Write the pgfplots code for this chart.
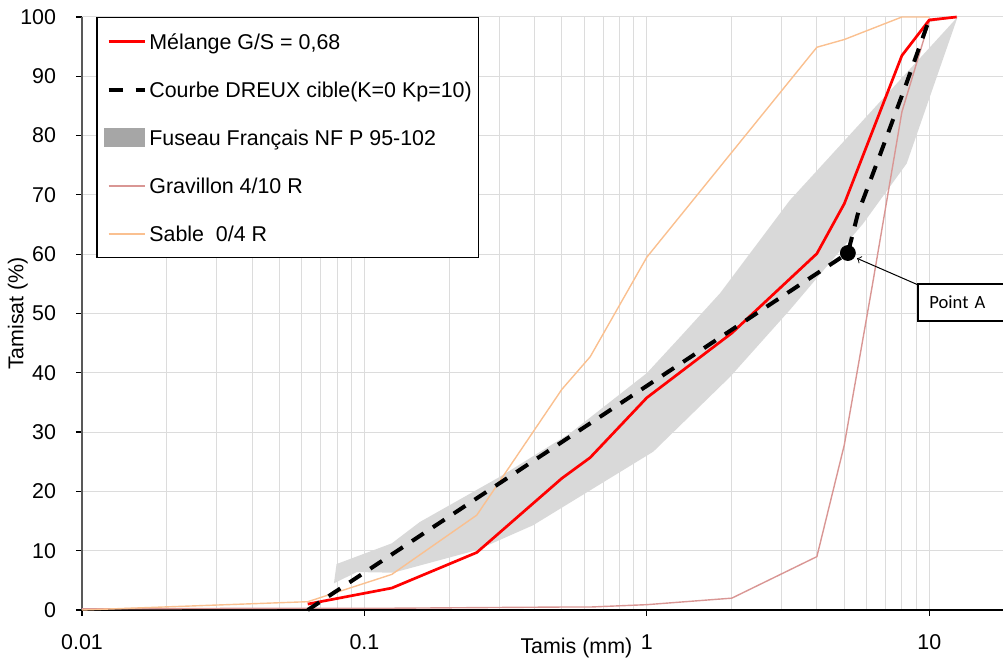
\documentclass[border=0pt]{standalone}
\usepackage{fontspec}
\setmainfont{Liberation Sans}
\newfontfamily\calibri{Carlito}
\usepackage{pgfplots}
\pgfplotsset{compat=1.18}
\definecolor{fus}{HTML}{D9D9D9}
\definecolor{fusleg}{HTML}{A6A6A6}
\definecolor{grav}{HTML}{D99694}
\definecolor{sable}{HTML}{FAC090}
\definecolor{gridc}{HTML}{DCDCDC}
\newcommand\cf{\fontsize{10.7}{12.8}\selectfont}
\pgfplotsset{
  legline/.style={legend image code/.code={\draw[##1] (2.2pt,0pt) -- (20.3pt,0pt);}},
  legarea/.style={legend image code/.code={\fill[fusleg] (0pt,-4.25pt) rectangle (20.3pt,4.25pt);}},
}
\begin{document}
\begin{tikzpicture}
\path[use as bounding box] (-41pt,-24.5pt) rectangle (460.5pt,305pt);
\begin{axis}[
  at={(0pt,0pt)}, anchor=south west,
  scale only axis, width=460.5pt, height=296.5pt,
  xmode=log, xmin=0.01, xmax=18.24, ymin=0, ymax=100,
  xtick={0.01,0.1,1,10}, xticklabels={0.01,0.1,1,10},
  minor xtick={0.02,0.03,0.04,0.05,0.06,0.07,0.08,0.09,0.2,0.3,0.4,0.5,0.6,0.7,0.8,0.9,2,3,4,5,6,7,8,9},
  ytick={0,10,...,100},
  grid=both,
  major grid style={gridc, line width=0.5pt},
  minor grid style={gridc, line width=0.5pt},
  axis x line*=bottom, axis y line*=left,
  x axis line style={black, line width=0.6pt},
  y axis line style={black!65, line width=0.6pt},
  tick align=outside, major tick length=3pt, minor tick length=0pt,
  tick style={black, line width=0.6pt},
  /pgf/number format/assume math mode=true,
  xticklabel style={font=\cf, anchor=base, inner sep=0pt, yshift=-16.65pt},
  yticklabel style={font=\cf, anchor=east, inner sep=0pt, xshift=-9.8pt},
  xlabel={Tamis (mm)}, ylabel={Tamisat (\%)},
  every axis x label/.style={at={(rel axis cs:0.5368,-0.073)}, anchor=base, font=\cf},
  every axis y label/.style={at={(rel axis cs:-0.0698,0.5)}, rotate=90, anchor=center, font=\cf},
  clip=false,
  legend cell align=left,
  legend style={at={(rel axis cs:0.01564,1)}, anchor=north west, draw=black, line width=0.6pt,
    fill=white, font=\cf, inner xsep=3.3pt, inner ysep=5.8pt, row sep=11.64pt, column sep=1.3pt,
    nodes={inner sep=0pt, text height=10.26pt, text depth=2.1pt}},
]
\addlegendimage{legline, draw=red, line width=1.35pt}
\addlegendentry{Mélange G/S = 0,68}
\addlegendimage{legline, draw=black, line width=2pt, dash pattern=on 7pt off 6.5pt}
\addlegendentry{Courbe DREUX cible(K=0 Kp=10)}
\addlegendimage{legarea}
\addlegendentry{Fuseau Français NF P 95-102}
\addlegendimage{legline, draw=grav, line width=1pt}
\addlegendentry{Gravillon 4/10 R}
\addlegendimage{legline, draw=sable, line width=1pt}
\addlegendentry{Sable\ \ 0/4 R}

% Fuseau (band)
\addplot[fill=fus, draw=none, forget plot] coordinates {
(0.0797,7.75) (0.125,11.24) (0.157,14.83) (0.302,22.47) (0.534,29.78) (1.0,39.95)
(1.31,46.0) (1.815,53.4) (3.21,69.1) (12.6,100)
(8.32,75.3) (5.84,65.2) (3.21,50.6) (1.97,39.3) (1.054,26.7) (0.396,14.3)
(0.25,10.1) (0.1265,6.29) (0.094,6.4) (0.078,4.5)
} -- cycle;

% Gravillon 4/10 R
\addplot[grav, line width=0.7pt, forget plot] coordinates {
(0.01,0.2) (0.063,0.3) (0.125,0.3) (0.25,0.4) (0.5,0.5) (0.63,0.5) (1,0.9) (2,2.0)
(4,9.0) (5,27.8) (6.3,55) (8,84) (10,99.3) (12.5,100)
};

% Sable 0/4 R
\addplot[sable, line width=0.7pt, forget plot] coordinates {
(0.01,0) (0.063,1.4) (0.125,6.0) (0.25,16.0) (0.5,37.2) (0.63,42.7) (1,59.5) (2,77.2)
(4,94.9) (5,96.2) (8,100) (10,100)
};

% Melange
\addplot[red, line width=1.35pt, forget plot] coordinates {
(0.063,1.0) (0.125,3.7) (0.25,9.7) (0.5,22.2) (0.63,25.7) (1,35.8) (2,46.7)
(4,60.1) (5,68.5) (8,93.5) (10,99.5) (12.5,100)
};

% Dreux
\addplot[black, line width=2pt, dash pattern=on 7pt off 5.5pt, forget plot] coordinates {
(0.063,0) (5.15,60.2) (5.6,67) (6.65,76.4) (8.3,88.8) (10,99.6)
};

% Point A
\addplot[only marks, mark=*, mark size=3.75pt, black, forget plot] coordinates {(5.15,60.2)};

\draw[->, line width=0.5pt] (axis cs:9.05,54.9) -- (axis cs:5.55,59.3);
\node[draw, line width=1pt, fill=white, anchor=west, font=\calibri\fontsize{9.3}{11}\selectfont,
  inner xsep=5.5pt, inner ysep=0pt, text width=31.7pt, minimum height=18.2pt]
  at (axis cs:9.074,51.83) {Point A};
\end{axis}
\end{tikzpicture}
\end{document}
